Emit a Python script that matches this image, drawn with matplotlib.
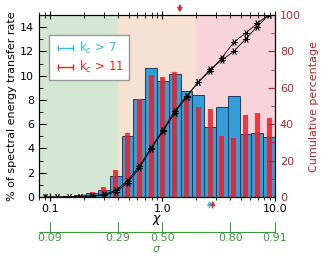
import numpy as np
import matplotlib
matplotlib.use("Agg")
import matplotlib.pyplot as plt
from matplotlib.lines import Line2D
from matplotlib.ticker import FixedLocator, NullLocator, NullFormatter

# ---- data ----
bin_edges = np.geomspace(0.08, 10.0, 21)
blue_pct = [0.0, 0.0, 0.05, 0.15, 0.3, 0.6, 1.7, 5.0, 8.08, 10.6, 9.6, 10.14,
            8.77, 8.41, 5.77, 7.39, 8.35, 5.19, 5.27, 4.95]
red_pct = [0.0, 0.0, 0.05, 0.15, 0.4, 0.8, 2.2, 5.3, 8.1, 10.05, 9.85, 10.3,
           8.27, 7.45, 7.23, 5.03, 4.84, 6.76, 6.9, 6.49]
region_edges = [0.08, 0.4, 2.0, 10.0]
region_colors = ["#d3e7d3", "#f7e1d3", "#f8d3da"]
sigma_ticks_chi = [0.1, 0.4, 1.0, 4.0, 10.0]
sigma_labels = ["0.09", "0.29", "0.50", "0.80", "0.91"]
x_major = [0.1, 1.0, 10.0]
x_major_labels = ["0.1", "1.0", "10.0"]
arrow_top = {"blue": 1.45, "red": 1.42}
arrow_bottom = {"blue": 2.62, "red": 2.80}
labels = ["k$_c$ > 7", "k$_c$ > 11"]

BLUE_BAR = "#2a9bd8"
CYAN = "#2fbcec"
RED = "#f01c24"
DARKRED = "#b02a2a"
GREEN = "#3f9a3f"

plt.rcParams['font.family'] = ['DejaVu Sans']
plt.rcParams['font.size'] = 8

fig = plt.figure(figsize=(3.21, 2.56), dpi=100)
ax = fig.add_axes([39/321, 59/256, 236/321, 182/256])
ax.set_xscale('log')
ax.set_xlim(0.08, 10.0)
ax.set_ylim(0, 15)

for i in range(3):
    ax.axvspan(region_edges[i], region_edges[i+1], color=region_colors[i], zorder=0, lw=0)

edges = np.array(bin_edges)
lefts = edges[:-1]
widths = np.diff(edges)
centers = np.sqrt(edges[:-1] * edges[1:])
ax.bar(lefts, blue_pct, width=widths, align='edge', color=BLUE_BAR, alpha=0.95,
       edgecolor="#1b3550", linewidth=0.7, zorder=2)
# narrow red bars centered in log space
rw = 0.42
log_l = np.log10(edges[:-1]); log_r = np.log10(edges[1:])
log_c = (log_l + log_r) / 2
rl = 10 ** (log_c - rw / 2 * (log_r - log_l))
rr = 10 ** (log_c + rw / 2 * (log_r - log_l))
ax.bar(rl, red_pct, width=rr - rl, align='edge', color=RED, alpha=0.85,
       linewidth=0, zorder=3)

# axes ticks
ax.xaxis.set_major_locator(FixedLocator(x_major))
ax.set_xticklabels(x_major_labels)
minor = [v * d for d in (0.01, 0.1, 1.0) for v in range(2, 10)]
minor = [m for m in minor if 0.08 <= m <= 10]
ax.xaxis.set_minor_locator(FixedLocator(minor))
ax.xaxis.set_minor_formatter(NullFormatter())
ax.tick_params(axis='x', which='major', direction='inout', length=6, top=True, labelsize=8, pad=2)
ax.tick_params(axis='x', which='minor', direction='inout', length=4, top=True)
ax.set_xlabel(r'$\chi$', labelpad=-1, fontsize=9)

ax.set_yticks(np.arange(0, 15, 2))
ax.yaxis.set_minor_locator(FixedLocator(np.arange(1, 15, 2)))
ax.tick_params(axis='y', which='major', direction='in', length=5, labelsize=8, right=False)
ax.tick_params(axis='y', which='minor', direction='in', length=3, right=False)
ax.set_ylabel('% of spectral energy transfer rate', fontsize=8, labelpad=2)

# cumulative
ax2 = ax.twinx()
ax2.set_ylim(0, 100)
cb = np.cumsum(blue_pct)
cr = np.cumsum(red_pct)
for c in (cb, cr):
    ax2.plot(centers, c, color='black', lw=0.6, marker=(6, 2, 90), markersize=5,
             markeredgewidth=0.5, zorder=5, clip_on=True)
ax2.set_yticks(np.arange(0, 101, 20))
ax2.yaxis.set_minor_locator(FixedLocator(np.arange(10, 100, 20)))
ax2.tick_params(axis='y', which='major', direction='in', length=5, colors=DARKRED, labelsize=8)
ax2.tick_params(axis='y', which='minor', direction='in', length=3, colors=DARKRED)
ax2.set_ylabel('Cumulative percentage', color=DARKRED, fontsize=8, labelpad=6)
ax2.set_xlim(0.08, 10.0)

# arrows
trans = ax.get_xaxis_transform()
for key, col in (("blue", CYAN), ("red", RED)):
    x = arrow_top[key]
    ax.annotate('', xy=(x, 1.0), xycoords=trans, xytext=(x, 1.07), textcoords=trans,
                arrowprops=dict(arrowstyle='-|>', color=col, lw=1.0, mutation_scale=6),
                annotation_clip=False)
    x = arrow_bottom[key]
    ax.annotate('', xy=(x, -0.005), xycoords=trans, xytext=(x, -0.075), textcoords=trans,
                arrowprops=dict(arrowstyle='-|>', color=col, lw=1.0, mutation_scale=6),
                annotation_clip=False)

# legend
handles = [Line2D([], [], color=CYAN, marker='|', markersize=5, lw=1.0),
           Line2D([], [], color=RED, marker='|', markersize=5, lw=1.0)]
leg = ax2.legend(handles, labels, loc='upper left', bbox_to_anchor=(0.042, 0.89),
                 borderaxespad=0, numpoints=2, handlelength=1.9, handletextpad=0.2,
                 fontsize=8.5, fancybox=False, edgecolor='#999999', framealpha=1,
                 labelcolor='linecolor', borderpad=0.45, labelspacing=0.2)

# secondary sigma axis
def fwd(x):
    x = np.asarray(x, dtype=float)
    return x / (1 + x)

def inv(s):
    s = np.asarray(s, dtype=float)
    with np.errstate(divide='ignore', invalid='ignore'):
        return s / (1 - s)

sec = ax.secondary_xaxis(-0.195, functions=(fwd, inv))
sig_pos = [c / (1 + c) for c in sigma_ticks_chi]
sec.set_xticks(sig_pos)
sec.set_xticklabels(sigma_labels)
sec.xaxis.set_minor_locator(NullLocator())
sec.tick_params(axis='x', direction='in', length=7, colors=GREEN, labelsize=8, pad=0.5)
sec.spines['bottom'].set_color(GREEN)
sec.set_xlabel(r'$\sigma$', color=GREEN, labelpad=0.5, fontsize=8)

fig.savefig('out.png', dpi=100)
